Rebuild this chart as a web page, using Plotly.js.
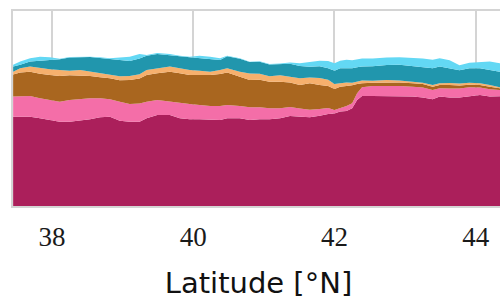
<!DOCTYPE html>
<html>
<head>
<meta charset="utf-8">
<script src="https://cdn.plot.ly/plotly-3.0.1.min.js"></script>
<style>
html,body{margin:0;padding:0;overflow:hidden;background:#fff;}
#chart{width:514px;height:300px;}
</style>
</head>
<body>
<div id="chart"></div>
<script>
// Latitude [°N]
const latitude = [37.45,37.55,37.69,37.83,37.97,38.11,38.25,38.40,38.54,38.68,38.82,38.96,39.10,39.24,39.34,39.49,39.67,39.81,39.95,40.09,40.24,40.38,40.48,40.66,40.80,40.94,41.08,41.23,41.37,41.51,41.65,41.79,41.91,42.00,42.08,42.17,42.25,42.32,42.39,42.54,42.74,42.92,43.11,43.25,43.39,43.49,43.63,43.77,43.91,44.06,44.20,44.34,44.41];
// stacked layers, bottom to top (share, %)
const layer1 = [45.8,45.8,45.8,45.0,44.1,43.2,43.2,43.7,44.5,45.5,45.8,43.7,43.2,43.2,45.0,46.7,46.7,45.0,44.5,44.5,44.1,44.1,45.0,45.0,44.1,44.5,44.5,45.0,46.2,45.9,45.5,46.3,47.2,47.4,48.4,48.7,50.1,54.4,56.4,56.4,56.4,56.1,56.1,55.7,54.7,56.1,55.7,55.7,56.4,56.9,56.1,56.4,56.4];
const layer2 = [10.3,10.3,10.6,10.3,10.3,10.3,11.1,11.0,10.8,9.7,8.9,9.7,9.1,9.4,8.5,7.7,6.8,7.7,7.8,7.3,7.2,7.2,6.8,6.3,6.5,6.2,5.6,5.1,4.6,4.1,3.9,3.4,3.1,1.8,1.7,2.6,2.6,3.4,4.5,5.1,5.1,5.5,5.1,5.1,4.8,4.3,4.6,4.6,4.5,3.9,3.8,3.1,3.3];
const layer3 = [11.3,12.3,12.5,12.5,12.8,13.2,12.8,12.3,11.4,10.8,10.8,11.1,12.3,12.8,13.7,13.7,15.4,15.4,14.9,15.4,15.9,16.4,16.6,15.0,14.0,14.0,13.6,13.6,12.5,12.1,13.5,12.4,11.3,10.8,11.1,10.3,9.2,4.8,2.1,1.7,1.9,1.7,1.7,1.7,1.7,1.7,1.8,1.5,1.3,1.2,1.3,0.9,1.0];
const layer4 = [1.5,2.3,2.6,2.9,2.9,3.1,2.2,2.7,2.2,2.1,1.7,2.1,2.1,2.2,2.6,2.6,2.6,2.6,2.6,2.2,1.7,2.1,2.3,2.6,3.4,3.1,2.9,3.4,3.1,3.4,3.0,3.6,3.1,2.6,1.7,1.7,1.3,1.2,1.3,1.0,1.2,1.0,0.8,0.7,0.9,0.9,1.0,1.0,1.0,0.9,0.9,0.5,0.8];
const layer5 = [2.6,1.7,2.6,3.7,4.8,5.5,6.9,6.7,7.5,7.8,8.2,8.2,7.7,8.1,7.2,7.3,6.0,6.1,6.5,6.4,6.4,5.1,6.1,6.6,5.8,6.2,5.9,5.7,6.5,6.3,5.5,6.0,6.0,6.7,7.7,7.4,7.5,7.4,7.2,7.5,7.7,8.1,8.1,8.2,8.6,8.5,7.4,6.8,7.4,7.7,7.7,8.0,7.7];
const layer6 = [1.0,1.7,1.7,2.2,1.4,0.2,0.2,0.2,0.2,0.4,0.4,1.4,2.2,2.2,0.5,0.4,0.5,0.3,0.3,1.2,1.3,0.9,0.3,0.3,0.2,0.2,0.3,0.3,0.7,1.4,2.6,2.8,3.7,3.9,3.9,4.3,4.1,4.1,4.1,3.9,3.9,3.9,4.1,4.3,4.3,4.3,4.3,2.6,2.9,3.4,4.3,4.3,4.1];
const layers = [layer1, layer2, layer3, layer4, layer5, layer6];
const colors = ['#ab1f5b','#f46ea8','#a9661f','#f6b06d','#2196ad','#63d8f4'];
const tickVals = [38, 40, 42, 44];
const tickText = ['38', '40', '42', '44'];
const xTitle = 'Latitude [°N]';

const traces = layers.map((vals, i) => ({
  type: 'scatter', mode: 'lines', x: latitude, y: vals,
  stackgroup: 'one', line: {width: 0, color: colors[i]},
  fillcolor: colors[i], hoverinfo: 'skip', showlegend: false
}));

const gridC = '#d4d4d4';
const layout = {
  width: 514, height: 300,
  margin: {l: 13, r: 10, t: 11, b: 94},
  paper_bgcolor: '#fff', plot_bgcolor: '#fff',
  showlegend: false,
  xaxis: {
    range: [37.448, 44.40], tickvals: tickVals, ticktext: tickText,
    showgrid: true, gridcolor: gridC, gridwidth: 2,
    showline: true, mirror: true, linecolor: gridC, linewidth: 2,
    ticks: '', zeroline: false, ticklabelstandoff: 6,
    tickfont: {family: 'Liberation Serif', size: 27, color: '#1a1a1a'},
    title: {text: xTitle, font: {family: 'DejaVu Sans', size: 29, color: '#111'}, standoff: 21},
    automargin: false
  },
  yaxis: {
    range: [0, 100], showgrid: false, showticklabels: false,
    showline: true, mirror: true, linecolor: gridC, linewidth: 2,
    ticks: '', zeroline: false, automargin: false
  }
};
Plotly.newPlot('chart', traces, layout, {staticPlot: true, displayModeBar: false});
</script>
</body>
</html>
